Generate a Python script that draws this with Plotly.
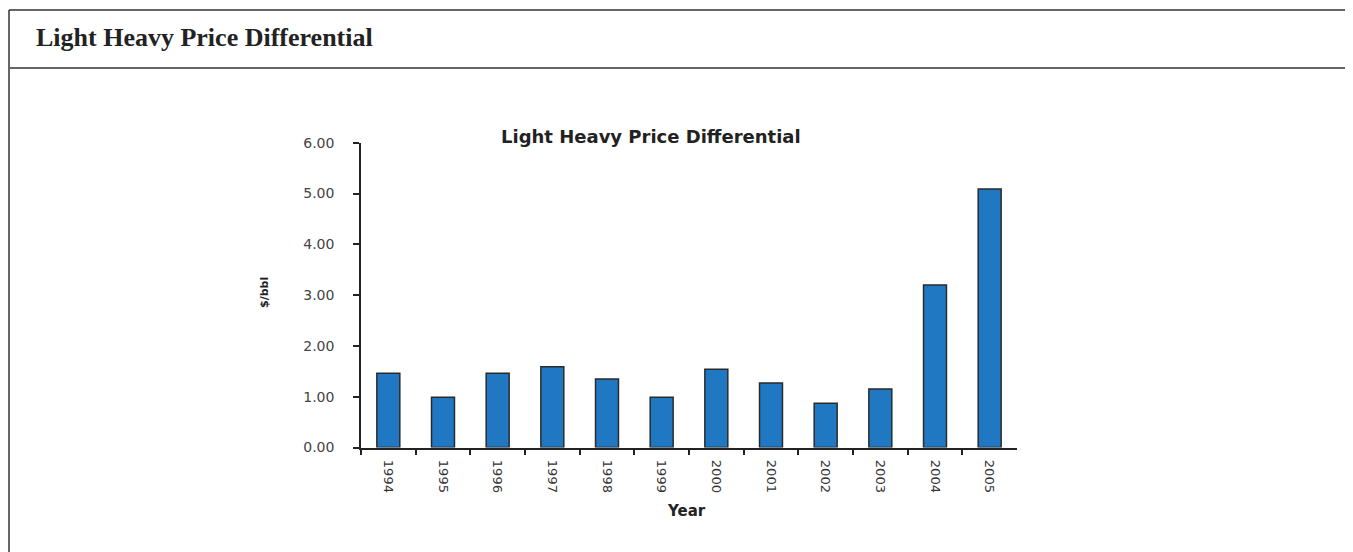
import plotly.graph_objects as go

# page is rendered with an 8px body margin, so the figure is offset by 8px
OFF = 8
FW, FH = 1353 - OFF, 552 - OFF

years = ["1994", "1995", "1996", "1997", "1998", "1999",
         "2000", "2001", "2002", "2003", "2004", "2005"]
differential = [1.46, 0.99, 1.46, 1.59, 1.35, 0.99, 1.54, 1.27, 0.87, 1.15, 3.20, 5.09]
y_ticks = [0, 1, 2, 3, 4, 5, 6]

def px(x):
    return (x - OFF) / FW

def py(y):
    return 1 - (y - OFF) / FH

fig = go.Figure()
fig.add_trace(go.Bar(
    x=years, y=differential,
    marker=dict(color="#1f78c1", line=dict(color="#2a2a2a", width=1.5)),
    hoverinfo="x+y",
))

fig.update_layout(
    width=FW, height=FH,
    margin=dict(l=0, r=0, t=0, b=0),
    paper_bgcolor="white", plot_bgcolor="white",
    showlegend=False,
    bargap=0.58,
    xaxis=dict(
        domain=[px(361), px(1017)],
        type="category",
        tickson="boundaries",
        ticks="outside", ticklen=6, tickwidth=1.5, tickcolor="#222",
        showline=True, linecolor="#222", linewidth=1.5,
        tickangle=90,
        ticklabelstandoff=8,
        tickfont=dict(family="DejaVu Sans", size=13, color="#333"),
        showgrid=False, automargin=False,
    ),
    yaxis=dict(
        domain=[py(447.5), py(142.7)],
        range=[0, 6],
        tickvals=y_ticks,
        tickformat=".2f",
        ticks="outside", ticklen=6, tickwidth=1.5, tickcolor="#222",
        showline=True, linecolor="#222", linewidth=1.5,
        ticklabelstandoff=16,
        tickfont=dict(family="DejaVu Sans", size=14, color="#444"),
        showgrid=False, zeroline=False, automargin=False,
    ),
    shapes=[
        dict(type="line", xref="paper", yref="paper", x0=px(9), x1=px(1351), y0=py(10), y1=py(10),
             line=dict(color="#333", width=1.5)),
        dict(type="line", xref="paper", yref="paper", x0=px(9), x1=px(9), y0=py(10), y1=py(552),
             line=dict(color="#333", width=1.5)),
        dict(type="line", xref="paper", yref="paper", x0=px(1351), x1=px(1351), y0=py(10), y1=py(552),
             line=dict(color="#888", width=1.2)),
        dict(type="line", xref="paper", yref="paper", x0=px(9), x1=px(1351), y0=py(68), y1=py(68),
             line=dict(color="#666", width=2)),
    ],
    annotations=[
        dict(text="<b>Light Heavy Price Differential</b>", xref="paper", yref="paper",
             x=px(34), y=py(37), xanchor="left", yanchor="middle", showarrow=False,
             font=dict(family="Liberation Serif, Times New Roman", size=26, color="#222")),
        dict(text="<b>Light Heavy Price Differential</b>", xref="paper", yref="paper",
             x=px(651), y=py(137), xanchor="center", yanchor="middle", showarrow=False,
             font=dict(family="DejaVu Sans", size=18, color="#222")),
        dict(text="<b>$/bbl</b>", xref="paper", yref="paper",
             x=px(264), y=py(293), xanchor="center", yanchor="middle", showarrow=False,
             textangle=-90,
             font=dict(family="DejaVu Sans", size=11, color="#222")),
        dict(text="<b>Year</b>", xref="paper", yref="paper",
             x=px(686), y=py(511), xanchor="center", yanchor="middle", showarrow=False,
             font=dict(family="DejaVu Sans", size=15, color="#222")),
    ],
)

fig.write_html("out.html")
